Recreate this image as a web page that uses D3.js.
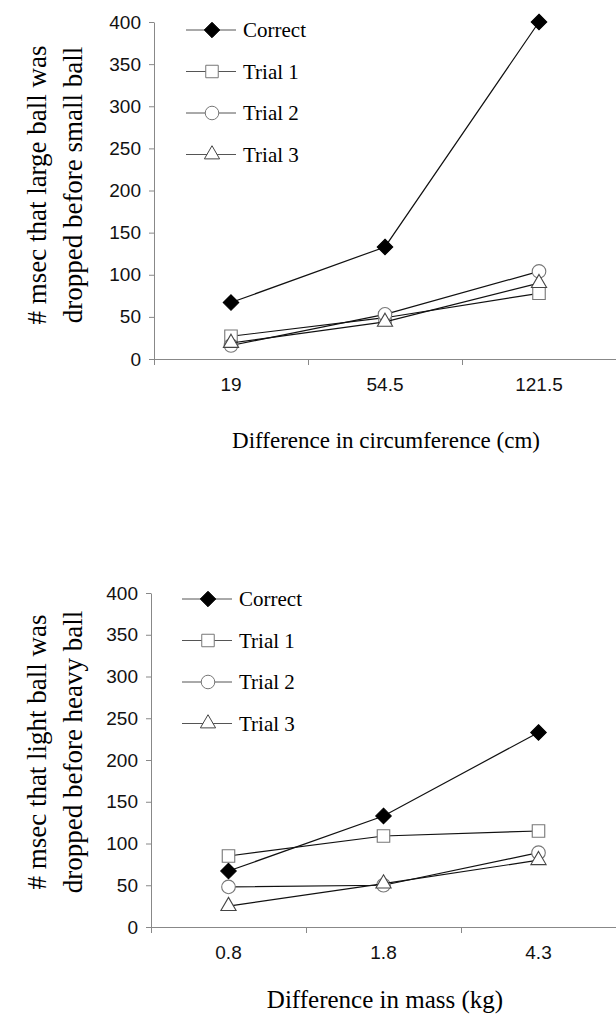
<!DOCTYPE html>
<html>
<head>
<meta charset="utf-8">
<script src="https://cdn.jsdelivr.net/npm/d3@7"></script>
<style>
  body { margin: 0; background: #fff; }
  svg { display: block; }
</style>
</head>
<body>
<svg id="chart" width="616" height="1018"></svg>
<script>
// values
var seriesNames = ["Correct", "Trial 1", "Trial 2", "Trial 3"];
var yTicks = [0, 50, 100, 150, 200, 250, 300, 350, 400];

var sizeCategories = ["19", "54.5", "121.5"];
var sizeCorrect = [67, 133, 400];
var sizeTrial1 = [27, 49, 78];
var sizeTrial2 = [16, 53, 104];
var sizeTrial3 = [19, 44, 90];

var massCategories = ["0.8", "1.8", "4.3"];
var massCorrect = [67, 133, 233];
var massTrial1 = [85, 109, 115];
var massTrial2 = [48, 50, 89];
var massTrial3 = [25, 52, 80];

var serif = "'Liberation Serif', 'DejaVu Serif', 'Times New Roman', Times, serif";
var sans = "'Liberation Sans', Arial, Helvetica, sans-serif";

var svg = d3.select("#chart");

// diamond drawn as a square turned 45 degrees
var diamond = {
  draw: function (ctx, size) {
    var r = Math.sqrt(size / 2);
    ctx.moveTo(0, -r);
    ctx.lineTo(r, 0);
    ctx.lineTo(0, r);
    ctx.lineTo(-r, 0);
    ctx.closePath();
  }
};
var markers = [
  { type: diamond, size: 120, fill: "#000", stroke: "#000" },
  { type: d3.symbolSquare, size: 156, fill: "#fff", stroke: "#777" },
  { type: d3.symbolCircle, size: 145, fill: "#fff", stroke: "#777" },
  { type: d3.symbolTriangle, size: 100, fill: "#fff", stroke: "#444" }
];

function drawChart(opt) {
  var g = svg.append("g");

  var y = d3.scaleLinear().domain([0, 400]).range([opt.bottom, opt.top]);
  var xEdge = d3.scaleLinear().domain([0, opt.categories.length]).range([opt.left, 616]);
  var x = d3.scaleBand().domain(opt.categories).range([opt.left, 616]);

  // y axis
  var ya = g.append("g")
    .attr("transform", "translate(" + opt.left + ",0)")
    .call(d3.axisLeft(y).tickValues(yTicks).tickSize(5).tickSizeOuter(0).tickPadding(8));
  ya.selectAll("path, line").attr("stroke", "#888");
  ya.selectAll("text").style("font-family", sans).style("font-size", "19px").attr("fill", "#111");

  // x axis: tick marks at band edges, labels at band centres
  var xa = g.append("g")
    .attr("transform", "translate(0," + opt.bottom + ")")
    .call(d3.axisBottom(xEdge).ticks(opt.categories.length).tickFormat("").tickSize(6).tickSizeOuter(0));
  xa.selectAll("path, line").attr("stroke", "#888");

  var xl = g.append("g")
    .attr("transform", "translate(0," + opt.bottom + ")")
    .call(d3.axisBottom(x).tickSize(0).tickPadding(19));
  xl.select(".domain").remove();
  xl.selectAll("text").style("font-family", sans).style("font-size", "19px").attr("fill", "#111");

  // axis titles
  g.append("text")
    .attr("x", opt.xTitleX)
    .attr("y", opt.xTitleY)
    .attr("text-anchor", "middle")
    .style("font-family", serif)
    .style("font-size", opt.xTitleSize + "px")
    .text(opt.xTitle);

  opt.yTitle.forEach(function (line, i) {
    g.append("text")
      .attr("transform", "translate(" + (46 + i * 36) + "," + opt.yTitleY + ") rotate(-90)")
      .attr("text-anchor", "middle")
      .style("font-family", serif)
      .style("font-size", "27px")
      .text(line);
  });

  var line = d3.line()
    .x(function (d, i) { return x(opt.categories[i]) + x.bandwidth() / 2; })
    .y(function (d) { return y(d); });

  opt.series.forEach(function (vals, s) {
    var m = markers[s];
    g.append("path")
      .datum(vals)
      .attr("d", line)
      .attr("fill", "none")
      .attr("stroke", "#111")
      .attr("stroke-width", 1.2);

    g.selectAll(".pt" + s)
      .data(vals)
      .enter()
      .append("path")
      .attr("transform", function (d, i) {
        return "translate(" + (x(opt.categories[i]) + x.bandwidth() / 2) + "," + y(d) + ")";
      })
      .attr("d", d3.symbol().type(m.type).size(m.size))
      .attr("fill", m.fill)
      .attr("stroke", m.stroke)
      .attr("stroke-width", 1.1);
  });

  // legend
  var lg = g.append("g");
  seriesNames.forEach(function (name, s) {
    var m = markers[s];
    var ry = opt.legendY + s * 41.5;
    lg.append("line")
      .attr("x1", opt.legendX).attr("x2", opt.legendX + 50)
      .attr("y1", ry).attr("y2", ry)
      .attr("stroke", "#555");
    lg.append("path")
      .attr("transform", "translate(" + (opt.legendX + 26) + "," + ry + ")")
      .attr("d", d3.symbol().type(m.type).size(m.size))
      .attr("fill", m.fill)
      .attr("stroke", m.stroke);
    lg.append("text")
      .attr("x", opt.legendX + 57)
      .attr("y", ry + 7)
      .style("font-family", serif)
      .style("font-size", "21px")
      .text(name);
  });
}

drawChart({
  categories: sizeCategories,
  series: [sizeCorrect, sizeTrial1, sizeTrial2, sizeTrial3],
  left: 154, top: 22, bottom: 359,
  xTitle: "Difference in circumference (cm)", xTitleX: 386, xTitleY: 448, xTitleSize: 23,
  yTitle: ["# msec that large ball was", "dropped before small ball"], yTitleY: 185,
  legendX: 186, legendY: 30
});

drawChart({
  categories: massCategories,
  series: [massCorrect, massTrial1, massTrial2, massTrial3],
  left: 151, top: 593, bottom: 927,
  xTitle: "Difference in mass (kg)", xTitleX: 385, xTitleY: 1008, xTitleSize: 25,
  yTitle: ["# msec that light ball was", "dropped before heavy ball"], yTitleY: 752,
  legendX: 182, legendY: 599
});
</script>
</body>
</html>
